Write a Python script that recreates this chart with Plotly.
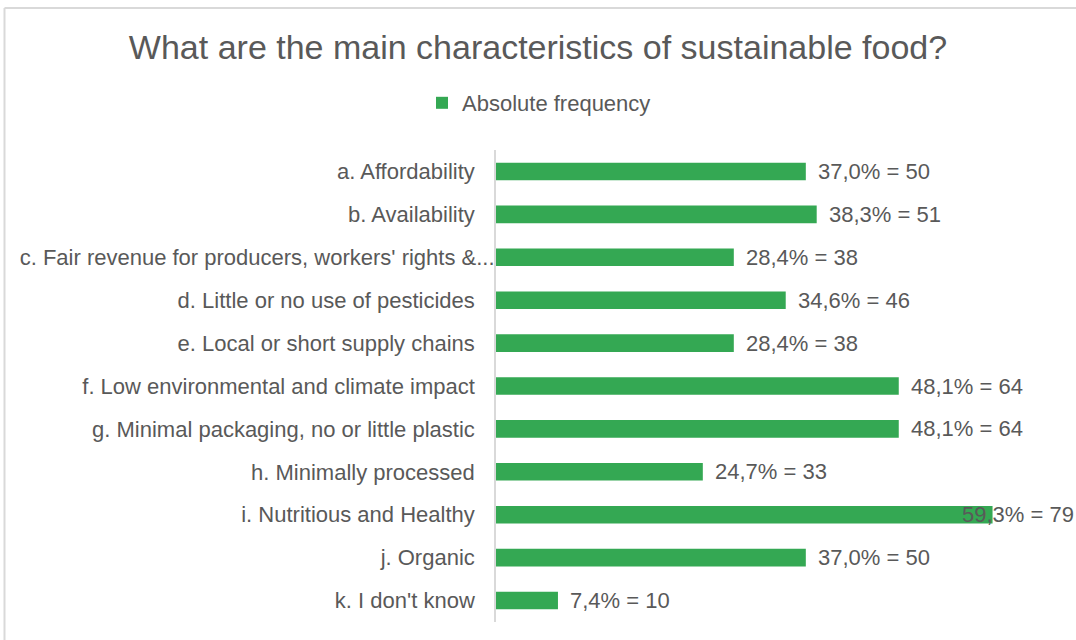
import plotly.graph_objects as go

categories = [
    "a. Affordability",
    "b. Availability",
    "c. Fair revenue for producers, workers' rights &...",
    "d. Little or no use of pesticides",
    "e. Local or short supply chains",
    "f. Low environmental and climate impact",
    "g. Minimal packaging, no or little plastic",
    "h. Minimally processed",
    "i. Nutritious and Healthy",
    "j. Organic",
    "k. I don't know",
]
percentages = [37.0, 38.3, 28.4, 34.6, 28.4, 48.1, 48.1, 24.7, 59.3, 37.0, 7.4]
counts = [50, 51, 38, 46, 38, 64, 64, 33, 79, 50, 10]

GREEN = "#34A853"
TEXT = "#595959"
FONT = "Liberation Sans, Arial, sans-serif"

W, H = 1076, 640
ML, MR, MT, MB = 496, 6, 150, 18
PW, PH = W - ML - MR, H - MT - MB

fig = go.Figure()
fig.add_trace(go.Bar(
    x=percentages,
    y=categories,
    orientation="h",
    name="Absolute frequency",
    marker=dict(color=GREEN, line=dict(width=0)),
    hovertemplate="%{y}: %{x}%<extra></extra>",
))

# Excel-like label layout: truncated labels run up to the axis, others keep a gap
PAD = "\u2002\u2009\u2009"
tick_text = [c if c.endswith("...") else c + PAD for c in categories]

labels = [f"{p:.1f}".replace(".", ",") + f"% = {n}" for p, n in zip(percentages, counts)]
vmax = max(percentages)
annotations = []
for p, c, lab in zip(percentages, categories, labels):
    if p == vmax:
        annotations.append(dict(x=1, xref="paper", y=c, yref="y", text=lab, showarrow=False,
                                xanchor="right", xshift=6,
                                font=dict(family=FONT, size=22, color=TEXT)))
    else:
        annotations.append(dict(x=p, xref="x", y=c, yref="y", text=lab, showarrow=False,
                                xanchor="left", xshift=10,
                                font=dict(family=FONT, size=22, color=TEXT)))


def px_x(px):
    return (px - ML) / PW


def px_y(py):
    return (H - MB - py) / PH


# outer chart frame (top and left edges visible)
shapes = [
    dict(type="line", xref="paper", yref="paper", x0=px_x(4.5), x1=px_x(1080), y0=px_y(8), y1=px_y(8),
         line=dict(color="#D9D9D9", width=2)),
    dict(type="line", xref="paper", yref="paper", x0=px_x(4.5), x1=px_x(4.5), y0=px_y(8), y1=px_y(645),
         line=dict(color="#D9D9D9", width=2)),
]

fig.update_layout(
    width=W, height=H,
    margin=dict(l=ML, r=MR, t=MT, b=MB, pad=0, autoexpand=False),
    paper_bgcolor="white", plot_bgcolor="white",
    font=dict(family=FONT, color=TEXT, size=22),
    title=dict(text="What are the main characteristics of sustainable food?",
               x=538 / W, xref="container", xanchor="center", y=1 - 47 / H, yref="container", yanchor="middle",
               font=dict(family=FONT, size=34, color=TEXT)),
    showlegend=True,
    legend=dict(orientation="h", x=px_x(422), xanchor="left", y=px_y(103), yanchor="middle",
                font=dict(family=FONT, size=22, color=TEXT), bgcolor="rgba(0,0,0,0)"),
    bargap=0.59,
    xaxis=dict(range=[0, 68.55], visible=False, fixedrange=True, automargin=False),
    yaxis=dict(autorange="reversed", showline=True, linecolor="#D9D9D9", linewidth=2,
               ticks="", showgrid=False, zeroline=False, ticklabelstandoff=-5, automargin=False,
               tickmode="array", tickvals=categories, ticktext=tick_text,
               tickfont=dict(family=FONT, size=22, color=TEXT)),
    annotations=annotations,
    shapes=shapes,
)

fig.write_html("out.html", config={"displayModeBar": False},
               post_script="document.body.style.margin='0';document.body.style.overflow='hidden';")
